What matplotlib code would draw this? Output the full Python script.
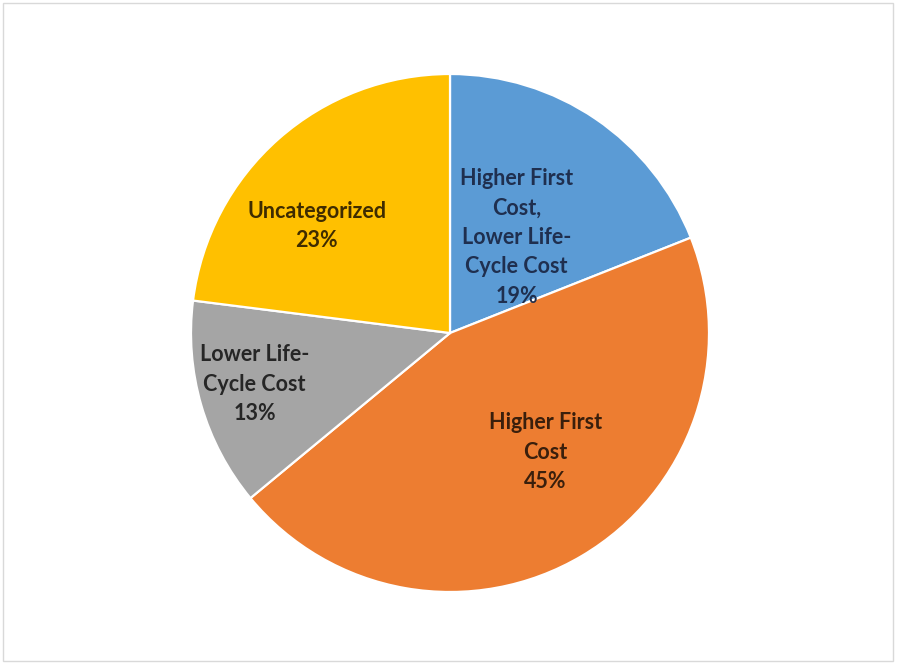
import numpy as np
import matplotlib.pyplot as plt
from matplotlib.patches import Rectangle

labels = ["Higher First\nCost,\nLower Life-\nCycle Cost", "Higher First\nCost",
          "Lower Life-\nCycle Cost", "Uncategorized"]
shares = [19, 45, 13, 23]
colors = ["#5B9BD5", "#ED7D31", "#A5A5A5", "#FFC000"]
text_colors = ["#1F2F4F", "#3A1F0C", "#262626", "#3F2C00"]
# label placement (fraction of radius, angle offset from wedge middle, degrees)
label_r = [0.45, 0.59, 0.78, 0.66]
label_shift = [-0.6, 8.1, -1.5, 9.8]

W, H = 898, 665
fig = plt.figure(figsize=(W / 100, H / 100), dpi=100)
fig.patches.append(Rectangle((3 / W, 4 / H), 890 / W, 658 / H, transform=fig.transFigure,
                             fill=False, edgecolor="#D9D9D9", linewidth=1.0))

R, cx, cy = 259, 450, 665 - 333
ax = fig.add_axes([(cx - R) / W, (cy - R) / H, 2 * R / W, 2 * R / H])
wedges, _ = ax.pie(shares, colors=colors, startangle=90, counterclock=False,
                   radius=1.0, wedgeprops=dict(edgecolor="white", linewidth=1.6))
ax.set_xlim(-1, 1)
ax.set_ylim(-1, 1)
ax.set_aspect("equal")
ax.axis("off")

for w, lab, pct, tc, r, sh in zip(wedges, labels, shares, text_colors, label_r, label_shift):
    mid = np.deg2rad((w.theta1 + w.theta2) / 2 + sh)
    ax.text(r * np.cos(mid), r * np.sin(mid), f"{lab}\n{pct}%", ha="center", va="center",
            color=tc, fontsize=15.5, fontweight="bold", family="Lato", linespacing=1.5)

fig.savefig("out.png", dpi=100)
